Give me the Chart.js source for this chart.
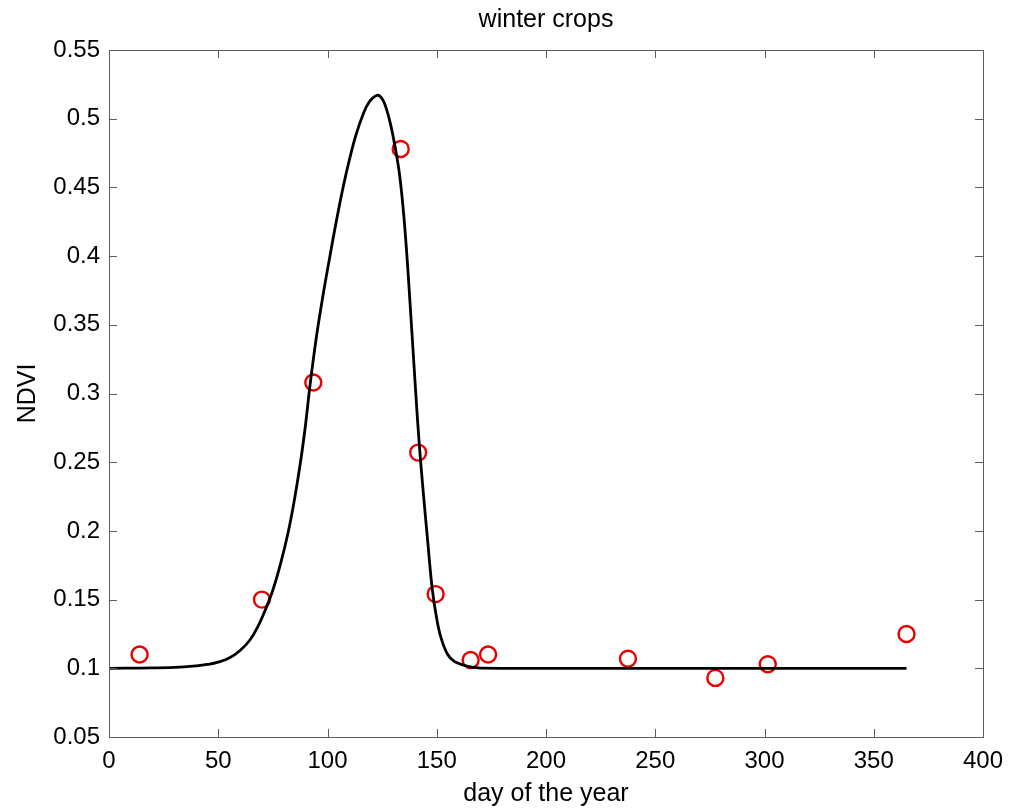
<!DOCTYPE html>
<html>
<head>
<meta charset="utf-8">
<script src="https://cdn.jsdelivr.net/npm/chart.js@4/dist/chart.umd.min.js"></script>
<style>
  body { margin: 0; background: #fff; }
  #wrap { width: 1017px; height: 809px; }
</style>
</head>
<body>
<div id="wrap"><canvas id="myChart" width="1017" height="809"></canvas></div>
<script>
'use strict';
// observed NDVI samples
const obsDays = [14, 70, 93.5, 133.5, 141.5, 149.5, 165.5, 173.5, 237.5, 277.5, 301.5, 365];
const obsNdvi = [0.110, 0.150, 0.308, 0.478, 0.257, 0.154, 0.106, 0.110, 0.107, 0.093, 0.103, 0.125];

// fitted curve
const fitDays = [0, 15, 30, 40, 45, 50, 55, 60, 64.5, 68, 71.5, 75, 78.5, 82, 85, 88, 90, 92, 95, 98, 101, 104, 107,
  110, 113, 116, 119, 122.7, 125, 127, 129, 131, 133, 135, 137, 140, 142.3, 146, 148, 150, 152, 155, 158, 162, 166,
  170, 200, 250, 300, 365];
const fitNdvi = [0.100, 0.1002, 0.1007, 0.1018, 0.1028, 0.1045, 0.1075, 0.113, 0.1206, 0.130, 0.1424, 0.157, 0.176,
  0.199, 0.224, 0.254, 0.278, 0.306, 0.342, 0.372, 0.399, 0.425, 0.449, 0.470, 0.488, 0.502, 0.512, 0.517, 0.5145,
  0.507, 0.495, 0.479, 0.459, 0.428, 0.385, 0.310, 0.257, 0.190, 0.157, 0.136, 0.122, 0.110, 0.105, 0.1025, 0.1008,
  0.1002, 0.100, 0.100, 0.100, 0.100];

const xTicks = [0, 50, 100, 150, 200, 250, 300, 350, 400];
const yTicks = [0.05, 0.1, 0.15, 0.2, 0.25, 0.3, 0.35, 0.4, 0.45, 0.5, 0.55];

const toPts = (xs, ys) => xs.map((x, i) => ({ x: x, y: ys[i] }));

const fontFam = '"Liberation Sans", Arial, Helvetica, sans-serif';
const axisGrey = '#5c5c5c';

// box around the plot and inward ticks on all four sides
const boxTicks = {
  id: 'boxTicks',
  afterDraw(chart) {
    const { ctx, chartArea: a, scales } = chart;
    const len = 8;
    ctx.save();
    ctx.strokeStyle = axisGrey;
    ctx.lineWidth = 1;
    ctx.beginPath();
    xTicks.forEach(v => {
      const px = Math.round(scales.x.getPixelForValue(v)) + 0.5;
      ctx.moveTo(px, a.bottom); ctx.lineTo(px, a.bottom - len);
      ctx.moveTo(px, a.top); ctx.lineTo(px, a.top + len);
    });
    yTicks.forEach(v => {
      const py = Math.round(scales.y.getPixelForValue(v)) + 0.5;
      ctx.moveTo(a.left, py); ctx.lineTo(a.left + len, py);
      ctx.moveTo(a.right, py); ctx.lineTo(a.right - len, py);
    });
    ctx.stroke();
    ctx.strokeRect(Math.round(a.left) + 0.5, Math.round(a.top) + 0.5,
      Math.round(a.right - a.left), Math.round(a.bottom - a.top));
    ctx.restore();
  }
};

const ctx = document.getElementById('myChart');
const myChart = new Chart(ctx, {
  type: 'scatter',
  data: {
    datasets: [
      {
        label: 'fit',
        data: toPts(fitDays, fitNdvi),
        showLine: true,
        borderColor: '#000',
        borderWidth: 2.8,
        pointRadius: 0,
        tension: 0.4,
        fill: false,
      },
      {
        label: 'NDVI',
        data: toPts(obsDays, obsNdvi),
        showLine: false,
        pointStyle: 'circle',
        pointRadius: 8,
        pointBorderWidth: 2.4,
        borderColor: '#e80000',
        backgroundColor: 'rgba(0,0,0,0)',
      },
    ],
  },
  options: {
    responsive: false,
    animation: false,
    layout: { padding: { left: 0, right: 34, top: 0, bottom: 0 } },
    plugins: {
      legend: { display: false },
      tooltip: { enabled: false },
      title: { display: false },
    },
    scales: {
      x: {
        type: 'linear',
        min: 0,
        max: 400,
        afterBuildTicks: s => { s.ticks = xTicks.map(v => ({ value: v })); },
        grid: { display: false, drawTicks: false },
        border: { display: false },
        ticks: {
          color: '#000',
          padding: 10,
          maxRotation: 0,
          font: { family: fontFam, size: 24 },
        },
        title: {
          display: true,
          text: 'day of the year',
          color: '#000',
          font: { family: fontFam, size: 25 },
          padding: { top: 0, bottom: 0 },
        },
        afterFit: s => { s.height = 72; },
      },
      // top axis only carries the title, centred over the plot box
      top: {
        type: 'linear',
        position: 'top',
        min: 0,
        max: 400,
        grid: { display: false, drawTicks: false },
        border: { display: false },
        ticks: { display: false },
        title: {
          display: true,
          text: 'winter crops',
          color: '#000',
          font: { family: fontFam, size: 25 },
          padding: { top: 5, bottom: 0 },
        },
        afterFit: s => { s.height = 50; },
      },
      y: {
        type: 'linear',
        min: 0.05,
        max: 0.55,
        afterBuildTicks: s => { s.ticks = yTicks.map(v => ({ value: v })); },
        grid: { display: false, drawTicks: false },
        border: { display: false },
        ticks: {
          color: '#000',
          padding: 9,
          font: { family: fontFam, size: 24 },
          callback: v => String(parseFloat(v.toFixed(2))),
        },
        title: {
          display: true,
          text: 'NDVI',
          color: '#000',
          font: { family: fontFam, size: 25 },
          padding: { top: 13, bottom: 0 },
        },
        afterFit: s => { s.width = 109; },
      },
    },
  },
  plugins: [boxTicks],
});
</script>
</body>
</html>
